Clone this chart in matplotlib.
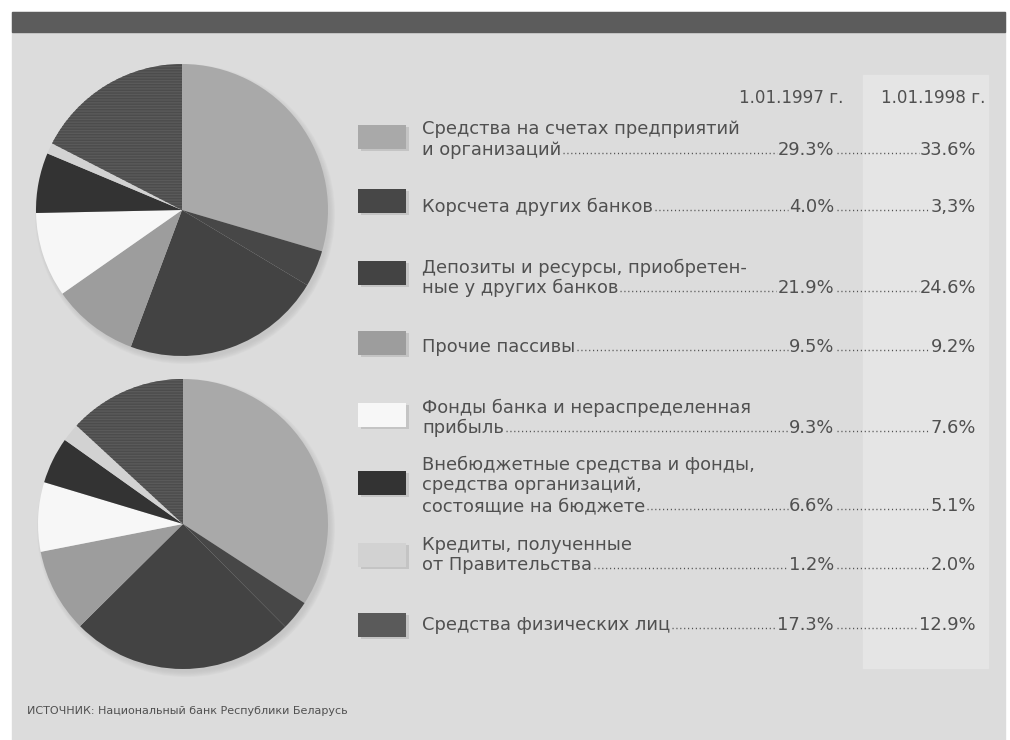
import matplotlib
matplotlib.use("Agg")
import matplotlib.pyplot as plt
from matplotlib.patches import Rectangle, Circle

plt.rcParams['font.family'] = ['DejaVu Sans']

# --- data -------------------------------------------------------------
categories = [
    "Средства на счетах предприятий\nи организаций",
    "Корсчета других банков",
    "Депозиты и ресурсы, приобретен-\nные у других банков",
    "Прочие пассивы",
    "Фонды банка и нераспределенная\nприбыль",
    "Внебюджетные средства и фонды,\nсредства организаций,\nсостоящие на бюджете",
    "Кредиты, полученные\nот Правительства",
    "Средства физических лиц",
]
share_1997 = [29.3, 4.0, 21.9, 9.5, 9.3, 6.6, 1.2, 17.3]
share_1998 = [33.6, 3.3, 24.6, 9.2, 7.6, 5.1, 2.0, 12.9]
labels_1997 = ["29.3%", "4.0%", "21.9%", "9.5%", "9.3%", "6.6%", "1.2%", "17.3%"]
labels_1998 = ["33.6%", "3,3%", "24.6%", "9.2%", "7.6%", "5.1%", "2.0%", "12.9%"]
column_titles = ["1.01.1997 г.", "1.01.1998 г."]
source_text = "ИСТОЧНИК: Национальный банк Республики Беларусь"

colors = ["#a9a9a9", "#474747", "#434343", "#9d9d9d",
          "#f7f7f7", "#333333", "#d2d2d2", "#5a5a5a"]

# --- figure -----------------------------------------------------------
W, H = 1010, 740
fig = plt.figure(figsize=(W / 100, H / 100), dpi=100, facecolor="white")
bg = fig.add_axes([0, 0, 1, 1])
bg.set_xlim(0, W)
bg.set_ylim(H, 0)
bg.axis("off")

panel_col = "#dcdcdc"
text_col = "#505050"
bg.add_patch(Rectangle((12, 12), 993, 730, color=panel_col, zorder=0))
bg.add_patch(Rectangle((12, 12), 993, 20, color="#5c5c5c", zorder=1))
bg.add_patch(Rectangle((863, 75), 125, 593, color="#e5e5e5", zorder=1))

# pies with a soft drop shadow
pie_specs = [((182, 210), 146, share_1997), ((183, 524), 145, share_1998)]
for (cx, cy), r, vals in pie_specs:
    for k in range(6):
        bg.add_patch(Circle((cx + 3, cy + 4), r + 4 - k, color="#b8b8b8",
                            alpha=0.12, lw=0, zorder=2))
    ax = fig.add_axes([(cx - r) / W, 1 - (cy + r) / H, 2 * r / W, 2 * r / H])
    wedges, _ = ax.pie(vals, colors=colors, startangle=90, counterclock=False,
                       radius=1, wedgeprops=dict(linewidth=0))
    wedges[-1].set_hatch("------")
    wedges[-1].set_edgecolor("#4c4c4c")
    wedges[-1].set_linewidth(0)
    ax.set_xlim(-1, 1)
    ax.set_ylim(-1, 1)
    ax.set_aspect("equal")
    ax.axis("off")

# --- legend table -----------------------------------------------------
fs = 12.9
line_step = 20.5
last_line_y = [148, 205, 286, 345, 426, 504, 563, 623]
swatch_y = [137, 201, 273, 343, 415, 483, 555, 625]
x_label = 422
x_val97 = 834
x_val98 = 976

bg.text(843, 96, column_titles[0], ha="right", va="center_baseline",
        fontsize=fs - 0.8, color=text_col)
bg.text(985, 96, column_titles[1], ha="right", va="center_baseline",
        fontsize=fs - 0.8, color=text_col)

last_texts = []
val97_texts = []
val98_texts = []
for i, name in enumerate(categories):
    sy = swatch_y[i]
    bg.add_patch(Rectangle((361, sy - 10), 48, 24, color="#c4c4c4", lw=0, zorder=2))
    bg.add_patch(Rectangle((358, sy - 12), 48, 24, color=colors[i], lw=0, zorder=3))
    lines = name.split("\n")
    n = len(lines)
    for j, ln in enumerate(lines):
        y = last_line_y[i] - (n - 1 - j) * line_step
        t = bg.text(x_label, y, ln, ha="left", va="center_baseline",
                    fontsize=fs, color=text_col, zorder=4)
    last_texts.append(t)
    val97_texts.append(bg.text(x_val97, last_line_y[i], labels_1997[i], ha="right",
                               va="center_baseline", fontsize=fs, color=text_col))
    val98_texts.append(bg.text(x_val98, last_line_y[i], labels_1998[i], ha="right",
                               va="center_baseline", fontsize=fs, color=text_col))

bg.text(27, 710, source_text, ha="left", va="center_baseline",
        fontsize=8.0, color=text_col)

# dotted leaders between label and values
fig.canvas.draw()
renderer = fig.canvas.get_renderer()
inv = bg.transData.inverted()


def x_span(t):
    bb = t.get_window_extent(renderer)
    (x0, _), (x1, _) = inv.transform([(bb.x0, bb.y0), (bb.x1, bb.y1)])
    return x0, x1


for i in range(len(categories)):
    y = last_line_y[i] + 5
    _, lab_end = x_span(last_texts[i])
    v97_start, v97_end = x_span(val97_texts[i])
    v98_start, _ = x_span(val98_texts[i])
    for a, b in [(lab_end + 2, v97_start - 1), (v97_end + 3, v98_start - 1)]:
        bg.plot([a, b], [y, y], color=text_col, lw=1.0,
                linestyle=(0, (0.8, 2.0)), solid_capstyle="butt", zorder=4)

fig.savefig("out.png", dpi=100, facecolor="white")
